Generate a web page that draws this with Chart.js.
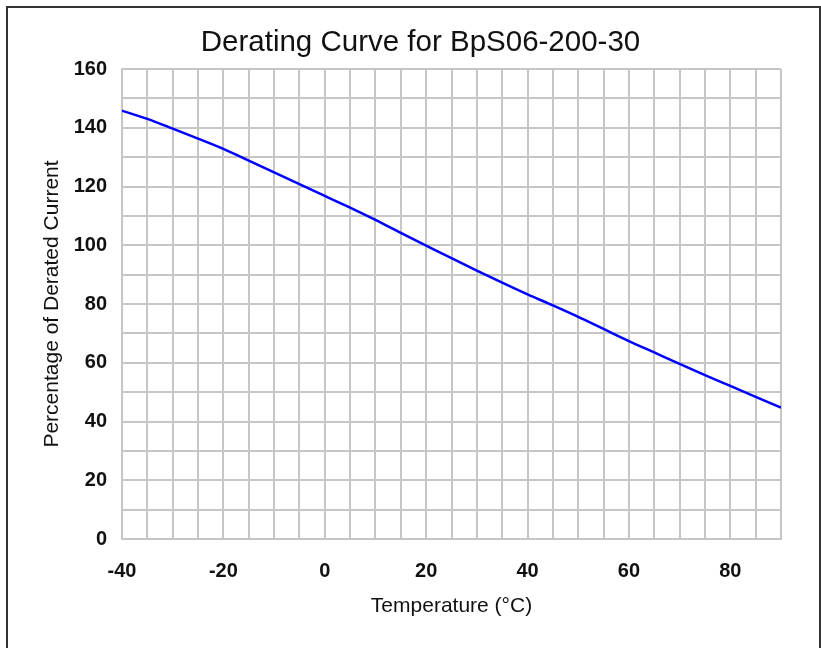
<!DOCTYPE html>
<html>
<head>
<meta charset="utf-8">
<script src="https://cdn.jsdelivr.net/npm/chart.js@4/dist/chart.umd.min.js"></script>
<style>
  html, body { margin: 0; padding: 0; background: #fff; }
  #wrap { position: relative; width: 821px; height: 648px; overflow: hidden; }
  #frame { position: absolute; left: 6px; top: 6px; width: 811px; height: 700px;
           border-left: 2px solid #333; border-top: 2px solid #333; border-right: 2px solid #333; pointer-events: none; }
  canvas { position: absolute; left: 0; top: 0; }
</style>
</head>
<body>
<div id="wrap">
  <canvas id="c" width="821" height="648"></canvas>
  <div id="frame"></div>
</div>
<script>
const chartTitle = "Derating Curve for BpS06-200-30";
const xAxisTitle = "Temperature (°C)";
const yAxisTitle = "Percentage of Derated Current";

const temperatures = [-40, -35, -30, -25, -20, -15, -10, -5, 0, 5, 10, 15, 20, 25, 30, 35, 40, 45, 50, 55, 60, 65, 70, 75, 80, 85, 90];
const deratedPercent = [145.8, 143.0, 139.7, 136.3, 132.8, 128.8, 124.8, 120.8, 116.8, 112.8, 108.6, 104.2, 99.9, 95.6, 91.4, 87.3, 83.3, 79.5, 75.6, 71.5, 67.4, 63.5, 59.6, 55.8, 52.1, 48.4, 44.7];

const xTickLabels = [-40, -20, 0, 20, 40, 60, 80];
const yTickLabels = [0, 20, 40, 60, 80, 100, 120, 140, 160];

const FONT = "'Liberation Sans', Arial, sans-serif";
const gridColor = '#c6c6c6';

const points = temperatures.map((t, i) => ({ x: t, y: deratedPercent[i] }));

new Chart(document.getElementById('c'), {
  type: 'line',
  data: {
    datasets: [{
      data: points,
      borderColor: '#0000ff',
      borderWidth: 2.5,
      pointRadius: 0,
      cubicInterpolationMode: 'monotone',
      fill: false
    }]
  },
  options: {
    responsive: false,
    animation: false,
    devicePixelRatio: 1,
    layout: { padding: { left: 60, right: 40, top: 0, bottom: 0 } },
    plugins: {
      legend: { display: false },
      tooltip: { enabled: false },
      title: {
        display: true,
        text: chartTitle,
        color: '#111',
        font: { family: FONT, size: 29.5, weight: 'normal', lineHeight: 1.2 },
        padding: { top: 25, bottom: 8.6 }
      }
    },
    scales: {
      x: {
        type: 'linear',
        min: -40, max: 90,
        afterFit: s => { s.height = 109; },
        grid: { color: gridColor, lineWidth: 2, drawTicks: false },
        border: { color: gridColor, width: 2 },
        ticks: {
          stepSize: 5,
          autoSkip: false,
          maxRotation: 0,
          padding: 20,
          color: '#111',
          font: { family: FONT, size: 20, weight: 'bold' },
          callback: v => xTickLabels.includes(v) ? String(v) : ''
        },
        title: {
          display: true,
          text: xAxisTitle,
          color: '#111',
          font: { family: FONT, size: 21 },
          padding: { top: 0, bottom: 29 }
        }
      },
      y: {
        min: 0, max: 160,
        afterFit: s => { s.width = 62; },
        grid: { color: gridColor, lineWidth: 2, drawTicks: false },
        border: { color: gridColor, width: 2 },
        ticks: {
          stepSize: 10,
          autoSkip: false,
          padding: 15,
          color: '#111',
          font: { family: FONT, size: 20, weight: 'bold' },
          callback: v => yTickLabels.includes(v) ? String(v) : ''
        },
        title: {
          display: true,
          text: yAxisTitle,
          color: '#111',
          font: { family: FONT, size: 21 },
          padding: { top: -20.6, bottom: 0 }
        }
      }
    }
  }
});
</script>
</body>
</html>
